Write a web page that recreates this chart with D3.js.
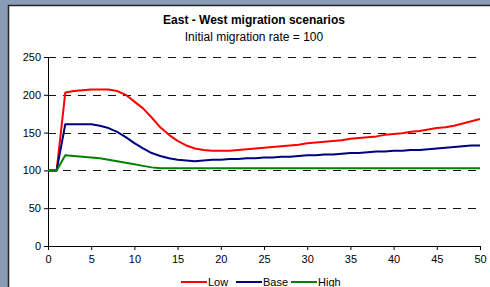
<!DOCTYPE html>
<html>
<head>
<meta charset="utf-8">
<script src="https://cdnjs.cloudflare.com/ajax/libs/d3/7.8.5/d3.min.js"></script>
<style>
  body { margin: 0; background: #8a9bb8; }
  svg { display: block; font-family: "Liberation Sans", Arial, sans-serif; }
  .axis text { font-size: 11px; fill: #000; }
  .axis path, .axis line { stroke: #000; }
</style>
</head>
<body>
<script>
// years 0..50
var years = d3.range(0, 51);
var low = [100, 100, 203, 205, 206, 207, 207, 207, 205, 200, 191, 182, 170, 157, 147, 139, 133, 129, 127, 126,
           126, 126, 127, 128, 129, 130, 131, 132, 133, 134, 136, 137, 138, 139, 140, 142, 143, 144, 145, 147,
           148, 149, 151, 152, 154, 156, 157, 159, 162, 165, 168];
var base = [100, 100, 161, 161, 161, 161, 159, 156, 151, 144, 136, 129, 123, 119, 116, 114, 113, 112, 113, 114,
            114, 115, 115, 116, 116, 117, 117, 118, 118, 119, 120, 120, 121, 121, 122, 123, 123, 124, 125, 125,
            126, 126, 127, 127, 128, 129, 130, 131, 132, 133, 133];
var high = [100, 100, 120, 119, 118, 117, 116, 114, 112, 110, 108, 106, 104, 103, 103, 103, 103, 103, 103, 103,
            103, 103, 103, 103, 103, 103, 103, 103, 103, 103, 103, 103, 103, 103, 103, 103, 103, 103, 103, 103,
            103, 103, 103, 103, 103, 103, 103, 103, 103, 103, 103];
var yTicks = [0, 50, 100, 150, 200, 250];
var xTicks = [0, 5, 10, 15, 20, 25, 30, 35, 40, 45, 50];
var seriesNames = ["Low", "Base", "High"];
var seriesColors = ["#ff0000", "#000080", "#008000"];
var seriesData = [low, base, high];

var W = 490, H = 287;
var svg = d3.select("body").append("svg").attr("width", W).attr("height", H);

// white chart area with dark border
svg.append("rect")
  .attr("x", 8.5).attr("y", 5.5)
  .attr("width", 490).attr("height", 300)
  .attr("fill", "#fff").attr("stroke", "#222").attr("stroke-width", 1.5);

var x = d3.scaleLinear().domain([0, 50]).range([48, 480]);
var y = d3.scaleLinear().domain([0, 250]).range([246, 57]);

// titles
svg.append("text").attr("x", 254).attr("y", 24)
  .attr("text-anchor", "middle").attr("font-size", "12px").attr("font-weight", "bold")
  .text("East - West migration scenarios");
svg.append("text").attr("x", 254).attr("y", 41)
  .attr("text-anchor", "middle").attr("font-size", "12px")
  .text("Initial migration rate = 100");

// dashed gridlines
svg.append("g").selectAll("line")
  .data(yTicks.filter(function(d) { return d > 0; }))
  .enter().append("line")
  .attr("x1", x(0)).attr("x2", x(50))
  .attr("y1", function(d) { return Math.round(y(d)) + 0.5; })
  .attr("y2", function(d) { return Math.round(y(d)) + 0.5; })
  .attr("stroke", "#111").attr("stroke-dasharray", "8,7");

// axes
svg.append("g").attr("class", "axis")
  .attr("transform", "translate(" + x(0) + ",0)")
  .call(d3.axisLeft(y).tickValues(yTicks).tickSize(4).tickPadding(3).tickSizeOuter(0));

svg.append("g").attr("class", "axis")
  .attr("transform", "translate(0," + y(0) + ")")
  .call(d3.axisBottom(x).tickValues(xTicks).tickSize(4).tickPadding(5).tickSizeOuter(0));

// lines
var line = d3.line()
  .x(function(d, i) { return x(years[i]); })
  .y(function(d) { return y(d); });

seriesData.forEach(function(s, i) {
  svg.append("path")
    .datum(s)
    .attr("fill", "none")
    .attr("stroke", seriesColors[i])
    .attr("stroke-width", 2)
    .attr("stroke-linejoin", "round")
    .attr("d", line);
});

// legend
var legendX = [181, 236, 291];
var legend = svg.append("g").attr("font-size", "11px");
seriesNames.forEach(function(n, i) {
  legend.append("line")
    .attr("x1", legendX[i]).attr("x2", legendX[i] + 26)
    .attr("y1", 282).attr("y2", 282)
    .attr("stroke", seriesColors[i]).attr("stroke-width", 2);
  legend.append("text")
    .attr("x", legendX[i] + 27).attr("y", 286)
    .text(n);
});
</script>
</body>
</html>
